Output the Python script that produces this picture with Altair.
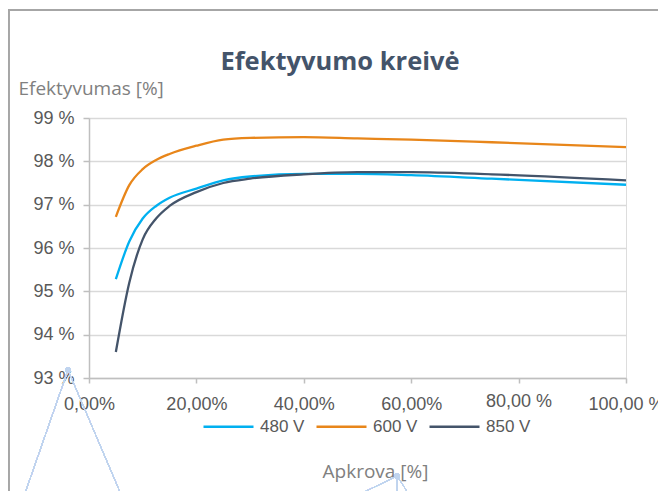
import altair as alt
import pandas as pd

load_pct = [5, 7.5, 10, 12.5, 15, 20, 25, 30, 40, 50, 60, 75, 100]
eff_480 = [95.28, 96.15, 96.68, 96.97, 97.16, 97.37, 97.56, 97.65, 97.71, 97.71, 97.68, 97.60, 97.46]
eff_600 = [96.72, 97.45, 97.82, 98.03, 98.17, 98.36, 98.50, 98.54, 98.56, 98.53, 98.50, 98.44, 98.33]
eff_850 = [93.60, 95.20, 96.20, 96.68, 96.97, 97.29, 97.50, 97.60, 97.70, 97.75, 97.75, 97.70, 97.56]
series = ["480 V", "600 V", "850 V"]
colors = ["#00B0F0", "#E8861A", "#44546A"]
x_ticks = [0, 20, 40, 60, 80, 100]
x_tick_labels = ["0,00%", "20,00%", "40,00%", "60,00%", "80,00 %", "100,00 %"]
y_ticks = [93, 94, 95, 96, 97, 98, 99]
chart_title = ["Efektyvumo kreivė"]

rows = []
for name, vals in zip(series, [eff_480, eff_600, eff_850]):
    for x, v in zip(load_pct, vals):
        rows.append({"load": x, "eff": v, "series": name})
df = pd.DataFrame(rows)
title_df = pd.DataFrame({"t": chart_title})

label_map = "{" + ",".join(f"'{t}':'{l}'" for t, l in zip(x_ticks, x_tick_labels)) + "}"

W, H = 537, 260

lines = alt.Chart(df).mark_line(strokeWidth=2.3, interpolate="monotone").encode(
    x=alt.X("load:Q", scale=alt.Scale(domain=[0, 100], nice=False),
            axis=alt.Axis(values=x_ticks, labelExpr=f"{label_map}[datum.value + '']",
                          labelOverlap=False, labelFlush=False,
                          title="Apkrova [%]", titleX=286, titleY=93, titleAlign="center",
                          titleBaseline="middle", titleFont="Open Sans", titleFontSize=19,
                          titleFontWeight="normal", titleColor="#808080",
                          labelFont="Liberation Sans", labelFontSize=18, labelColor="#595959",
                          labelPadding={"condition": {"test": "datum.value == 80", "value": 18},
                                        "value": 21},
                          labelBaseline="middle",
                          grid=False, domainColor="#BFBFBF", domainWidth=1.5,
                          tickColor="#BFBFBF", tickSize=5, tickWidth=1.5)),
    y=alt.Y("eff:Q", scale=alt.Scale(domain=[93, 99], nice=False, zero=False),
            axis=alt.Axis(values=y_ticks, labelExpr="datum.value + ' %'",
                          title="Efektyvumas [%]", titleAngle=0, titleX=-71, titleY=-30,
                          titleAlign="left", titleBaseline="middle", titleFont="Open Sans",
                          titleFontSize=19, titleFontWeight="normal", titleColor="#808080",
                          labelFont="Liberation Sans", labelFontSize=18, labelColor="#595959",
                          labelPadding=9, gridColor="#D9D9D9", gridWidth=1.5,
                          domainColor="#BFBFBF", domainWidth=1.5,
                          tickColor="#BFBFBF", tickSize=6, tickWidth=1.5)),
    color=alt.Color("series:N", scale=alt.Scale(domain=series, range=colors),
                    legend=alt.Legend(title=None, orient="none", direction="horizontal",
                                      legendX=113, legendY=282, symbolType="stroke",
                                      symbolSize=2500, symbolStrokeWidth=2.3,
                                      labelFont="Liberation Sans", labelFontSize=17,
                                      labelColor="#595959", labelOffset=5, columnPadding=6)),
)

title_mark = alt.Chart(title_df).mark_text(
    font="Open Sans", fontSize=25.5, fontWeight="bold", color="#44546A",
    align="center", baseline="alphabetic").encode(
    text="t:N", x=alt.value(251), y=alt.value(-48))

frame_color = "#A6A6A6"
frame_left = alt.Chart(df).mark_rule(color=frame_color, strokeWidth=1.5).encode(
    x=alt.value(-80.5), y=alt.value(-108), y2=alt.value(380))
frame_top = alt.Chart(df).mark_rule(color=frame_color, strokeWidth=1.5).encode(
    x=alt.value(-80.5), x2=alt.value(580), y=alt.value(-108))

hl = "#C0D4EE"
h1 = alt.Chart(df).mark_rule(color=hl, strokeWidth=1).encode(
    x=alt.value(-21), y=alt.value(252), x2=alt.value(-66), y2=alt.value(381))
h2 = alt.Chart(df).mark_rule(color=hl, strokeWidth=1).encode(
    x=alt.value(-21), y=alt.value(252), x2=alt.value(34), y2=alt.value(381))
h3 = alt.Chart(df).mark_rule(color=hl, strokeWidth=1).encode(
    x=alt.value(308), y=alt.value(358), x2=alt.value(261), y2=alt.value(381))
h4 = alt.Chart(df).mark_rule(color=hl, strokeWidth=1).encode(
    x=alt.value(308), y=alt.value(358), x2=alt.value(308), y2=alt.value(381))
h5 = alt.Chart(df).mark_rule(color=hl, strokeWidth=1).encode(
    x=alt.value(308), y=alt.value(358), x2=alt.value(323), y2=alt.value(381))
p1 = alt.Chart(df).mark_point(filled=True, color=hl, size=30, opacity=1).encode(
    x=alt.value(-21), y=alt.value(252))
p2 = alt.Chart(df).mark_point(filled=True, color=hl, size=30, opacity=1).encode(
    x=alt.value(308), y=alt.value(358))

chart = alt.layer(lines, title_mark, frame_left, frame_top, h1, h2, h3, h4, h5, p1, p2).properties(
    width=W, height=H,
    autosize=alt.AutoSizeParams(type="none"),
    padding={"left": 81, "top": 110, "right": 32, "bottom": 113},
).configure_view(stroke=None).configure(background="white")

chart.save("out.html", embed_options={"renderer": "svg", "actions": False})
